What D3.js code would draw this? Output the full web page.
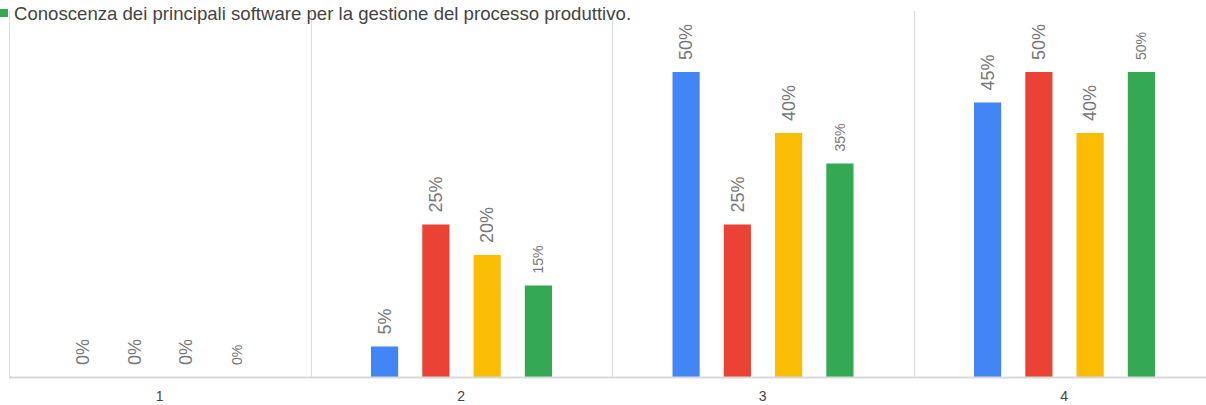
<!DOCTYPE html>
<html>
<head>
<meta charset="utf-8">
<script src="https://cdn.jsdelivr.net/npm/d3@7"></script>
<style>
  body { margin: 0; background: #fff; }
  svg { display: block; font-family: "Liberation Sans", Arial, sans-serif; }
</style>
</head>
<body>
<svg id="chart" width="1206" height="405"></svg>
<script>
"use strict";

// groups along the x axis
const categories = ["1", "2", "3", "4"];
const seriesNames = ["s1", "s2", "s3", "Conoscenza dei principali software per la gestione del processo produttivo."];
const seriesColors = ["#4285f4", "#ea4335", "#fbbc04", "#34a853"];
// percentages per series, one per category
const blueValues = [0, 5, 50, 45];
const redValues = [0, 25, 25, 50];
const yellowValues = [0, 20, 40, 40];
const greenValues = [0, 15, 35, 50];

const allSeries = [blueValues, redValues, yellowValues, greenValues];

const svg = d3.select("#chart");

const x0 = d3.scaleBand().domain(categories).range([9, 1215]).paddingInner(0).paddingOuter(0);
const x1 = d3.scaleBand().domain(d3.range(4)).range([60.5, 241.5]).paddingInner(0.47).paddingOuter(0);
const y = d3.scaleLinear().domain([0, 60]).range([377, 11]);

// vertical separators between groups
svg.append("g")
  .selectAll("line")
  .data(categories)
  .enter()
  .append("line")
  .attr("x1", (d) => Math.round(x0(d)) + 0.5)
  .attr("x2", (d) => Math.round(x0(d)) + 0.5)
  .attr("y1", y(60))
  .attr("y2", y(0))
  .attr("stroke", "#dddddd")
  .attr("stroke-width", 1);

const groups = svg.append("g")
  .selectAll("g")
  .data(categories)
  .enter()
  .append("g")
  .attr("transform", (d) => `translate(${x0(d)},0)`);

groups.selectAll("rect")
  .data((d, i) => allSeries.map((s, k) => ({ k: k, v: s[i] })))
  .enter()
  .append("rect")
  .attr("x", (d) => x1(d.k))
  .attr("width", x1.bandwidth())
  .attr("y", (d) => y(d.v))
  .attr("height", (d) => y(0) - y(d.v))
  .attr("fill", (d) => seriesColors[d.k]);

groups.selectAll("text")
  .data((d, i) => allSeries.map((s, k) => ({ k: k, v: s[i] })))
  .enter()
  .append("text")
  .attr("transform", (d) => `translate(${x1(d.k) + x1.bandwidth() / 2},${y(d.v) - 12}) rotate(-90)`)
  .attr("dy", "0.35em")
  .attr("text-anchor", "start")
  .attr("font-size", (d) => (d.k === 3 ? 14 : 18))
  .attr("fill", "#777777")
  .text((d) => d.v + "%");

// baseline
svg.append("line")
  .attr("x1", 9)
  .attr("x2", 1206)
  .attr("y1", 377.5)
  .attr("y2", 377.5)
  .attr("stroke", "#d9d9d9")
  .attr("stroke-width", 2);

// category labels
svg.append("g")
  .selectAll("text")
  .data(categories)
  .enter()
  .append("text")
  .attr("x", (d) => x0(d) + x0.bandwidth() / 2)
  .attr("y", 401)
  .attr("text-anchor", "middle")
  .attr("font-size", 14)
  .attr("fill", "#444444")
  .text((d) => d);

// legend (only the last entry is visible)
const legend = svg.append("g");
legend.append("rect")
  .attr("x", 0)
  .attr("y", 9)
  .attr("width", 8)
  .attr("height", 8)
  .attr("fill", seriesColors[3]);
legend.append("text")
  .attr("x", 14)
  .attr("y", 20)
  .attr("font-size", 18.6)
  .attr("fill", "#444444")
  .text(seriesNames[3]);
</script>
</body>
</html>
